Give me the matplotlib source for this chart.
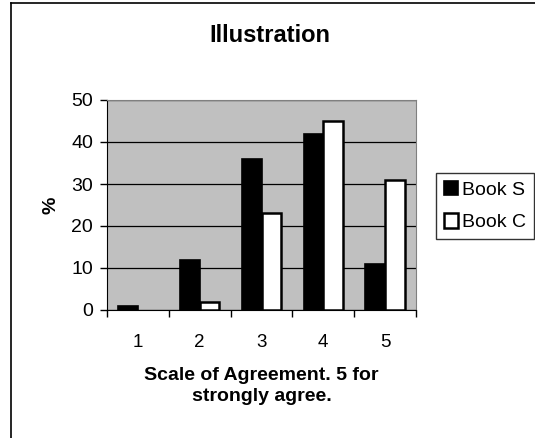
import matplotlib
matplotlib.use("Agg")
import matplotlib.pyplot as plt
import numpy as np
from matplotlib.lines import Line2D
from matplotlib.patches import Patch

plt.rcParams['font.family'] = ['Liberation Sans', 'DejaVu Sans']

categories = ['1', '2', '3', '4', '5']
book_s = [1, 12, 36, 42, 11]
book_c = [0, 2, 23, 45, 31]

W, H = 535, 438
fig = plt.figure(figsize=(W / 100, H / 100), dpi=100)

# outer chart frame (only left and top visible in the reference)
fig.add_artist(Line2D([11 / W, 11 / W], [0, 1 - 3 / H], color='black', lw=1.2))
fig.add_artist(Line2D([11 / W, 1], [1 - 3 / H, 1 - 3 / H], color='black', lw=1.2))

ax = fig.add_axes([107 / W, 1 - 310 / H, (416 - 107) / W, (310 - 100) / H])
ax.set_facecolor('#C0C0C0')

x = np.arange(len(categories))
bw = 0.32
bs = ax.bar(x - bw / 2, book_s, bw, color='black', edgecolor='black', lw=1.2, zorder=3)
bc = ax.bar(x + bw / 2, book_c, bw, color='white', edgecolor='black', lw=1.8, zorder=3)
for r in list(bs) + list(bc):
    if r.get_height() == 0:
        r.set_visible(False)

ax.set_xlim(-0.5, 4.5)
ax.set_ylim(0, 50)
ax.set_yticks(range(0, 51, 10))
ax.yaxis.grid(True, color='black', lw=0.9, zorder=1)
ax.set_axisbelow(True)

ax.set_xticks(x)
ax.set_xticklabels(categories, fontsize=13.5)
ax.tick_params(axis='x', length=0, pad=17)
ax.set_xticks(np.arange(-0.5, 5, 1), minor=True)
ax.tick_params(axis='x', which='minor', length=5, width=1, direction='out')
ax.tick_params(axis='y', labelsize=14, length=5, width=1, direction='out', pad=5)

for s in ['top', 'right']:
    ax.spines[s].set_color('#808080')
ax.spines['left'].set_color('black')
ax.spines['bottom'].set_color('black')

ax.set_ylabel('%', fontsize=14, fontweight='bold', labelpad=8.5)
ax.set_xlabel('Scale of Agreement. 5 for\nstrongly agree.', fontsize=14,
              fontweight='bold', labelpad=12, linespacing=1.25)

fig.text(270 / W, 1 - 35 / H, 'Illustration', fontsize=17, fontweight='bold',
         ha='center', va='center')

handles = [Patch(facecolor='black', edgecolor='black', lw=1.2, label='Book S'),
           Patch(facecolor='white', edgecolor='black', lw=1.8, label='Book C')]
leg = ax.legend(handles=handles, loc='center left', bbox_to_anchor=(436 / W, 1 - 206 / H),
                bbox_transform=fig.transFigure, frameon=True, fancybox=False,
                fontsize=14, handlelength=0.75, handleheight=0.75,
                handletextpad=0.2, borderpad=0.4, labelspacing=0.75, borderaxespad=0)
leg.get_frame().set_edgecolor('black')
leg.get_frame().set_linewidth(1)

fig.savefig('out.png', dpi=100)
